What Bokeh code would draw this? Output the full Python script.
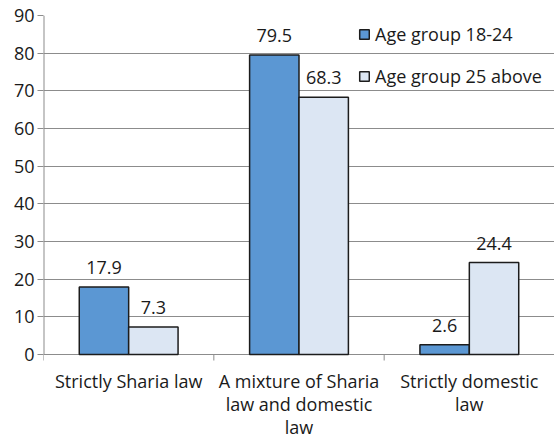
from bokeh.plotting import figure
from bokeh.models import (ColumnDataSource, FixedTicker, Legend, LegendItem, Range1d, LabelSet)
from bokeh.core.properties import value
from bokeh.embed import file_html
from bokeh.resources import INLINE

# Preferred legal system, share of respondents (%) by age group
categories = ["Strictly Sharia law", "A mixture of Sharia\nlaw and domestic\nlaw", "Strictly domestic\nlaw"]
series_names = ["Age group 18-24", "Age group 25 above"]
age_18_24 = [17.9, 79.5, 2.6]
age_25_above = [7.3, 68.3, 24.4]
y_ticks = [0, 10, 20, 30, 40, 50, 60, 70, 80, 90]

FONT = "Open Sans"
FS = "18px"
TEXT = "#1a1a1a"
GRID = "#8c8c8c"
colors = ["#5b97d3", "#dce6f3"]
bar_w = 0.29

W, H, TOP, LEFT = 554, 438, 15, 43
Y_MAX = 90
PLOT_PX = 339                    # pixel height of the 0..90 value band
px = PLOT_PX / Y_MAX             # pixels per value unit
y_min = -(H - TOP - PLOT_PX) / px  # room under zero for the category names

centers = [i + 0.5 for i in range(len(categories))]

p = figure(width=W, height=H, x_range=Range1d(0, 3), y_range=Range1d(y_min, Y_MAX),
           output_backend="svg", toolbar_location=None,
           min_border_left=LEFT, min_border_right=0, min_border_top=TOP, min_border_bottom=0)
p.outline_line_color = None
p.background_fill_color = "white"
p.border_fill_color = "white"

renderers = []
for k, vals in enumerate([age_18_24, age_25_above]):
    xs = [c + (k - 0.5) * bar_w for c in centers]
    src = ColumnDataSource(dict(x=xs, top=vals, lab=[f"{v:.1f}" for v in vals]))
    r = p.vbar(x="x", top="top", width=bar_w, bottom=0, source=src,
               fill_color=colors[k], line_color="#1c1c1c", line_width=1.5)
    renderers.append(r)
    p.add_layout(LabelSet(x="x", y="top", text="lab", source=src, text_align="center",
                          text_baseline="bottom", y_offset=13, text_font=value(FONT),
                          text_font_size=FS, text_color=TEXT))

# value axis (its line is drawn as a segment so it stops at zero)
p.yaxis.ticker = FixedTicker(ticks=y_ticks)
p.yaxis.major_label_text_font = FONT
p.yaxis.major_label_text_font_size = FS
p.yaxis.major_label_text_color = TEXT
p.yaxis.axis_line_color = None
p.yaxis.major_tick_line_color = GRID
p.yaxis.major_tick_in = 0
p.yaxis.major_tick_out = 6
p.yaxis.minor_tick_line_color = None
p.yaxis.major_label_standoff = 3
p.xaxis.visible = False

p.xgrid.grid_line_color = None
p.ygrid.ticker = FixedTicker(ticks=y_ticks)
p.ygrid.grid_line_color = GRID
p.ygrid.grid_line_width = 1

p.segment(x0=[0], x1=[0], y0=[0], y1=[Y_MAX], line_color=GRID, line_width=2)

# category separators below the baseline and category names
seps = [0, 1, 2, 3]
tick_len = 6 / px
p.segment(x0=seps, x1=seps, y0=[0] * 4, y1=[-tick_len] * 4, line_color=GRID, line_width=1)
p.text(x=centers, y=[-14 / px] * 3, text=categories, text_align="center", text_baseline="top",
       text_font=value(FONT), text_font_size=FS, text_color=TEXT, text_line_height=0.96)

legend = Legend(items=[LegendItem(label=n, renderers=[r]) for n, r in zip(series_names, renderers)],
                location=(315, 350), orientation="vertical",
                glyph_width=12, glyph_height=12, label_height=20, spacing=18,
                label_standoff=5, padding=0, margin=0,
                label_text_font=FONT, label_text_font_size=FS, label_text_color=TEXT,
                background_fill_alpha=0, border_line_alpha=0)
p.add_layout(legend)

open("out.html", "w").write(file_html(p, INLINE))
